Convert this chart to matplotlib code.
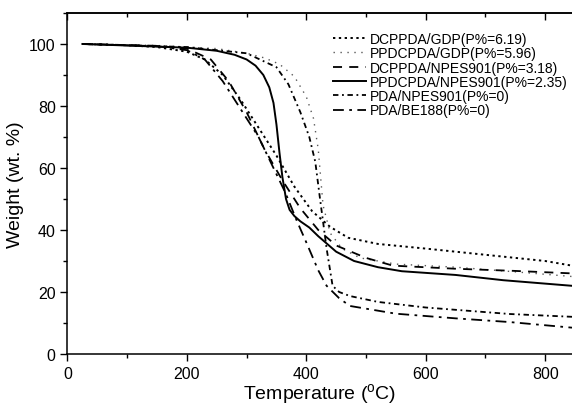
import numpy as np
import matplotlib
matplotlib.use('Agg')
import matplotlib.pyplot as plt
from matplotlib.ticker import MultipleLocator, NullFormatter

plt.rcParams['font.family'] = ['Liberation Sans', 'DejaVu Sans']
plt.rcParams['mathtext.fontset'] = 'custom'
plt.rcParams['mathtext.rm'] = 'Liberation Sans'

# TGA curves (temperature in C, weight in wt.%)
t_dcp_gdp = [25, 100, 150, 200, 230, 260, 290, 320, 350, 380, 410, 440, 470, 520, 600, 700, 800, 845]
w_dcp_gdp = [100, 99.6, 99, 97.5, 95, 90, 82, 73, 64, 54, 46, 41, 37.5, 35.5, 34, 32, 30, 28.5]

t_ppd_gdp = [25, 150, 250, 300, 330, 355, 380, 400, 412, 420, 428, 440, 460, 490, 550, 650, 750, 845]
w_ppd_gdp = [100, 99.5, 98.5, 97, 95.5, 93.5, 89.5, 83, 76, 66, 48, 39, 34, 31, 29, 28, 26.5, 25]

t_dcp_npes = [25, 150, 200, 240, 270, 300, 330, 360, 390, 420, 450, 500, 545, 650, 750, 845]
w_dcp_npes = [100, 99.4, 98.5, 95, 88, 78, 66, 56, 47, 40, 35, 31, 28.5, 27.5, 26.8, 26]

t_ppd_npes = [25, 100, 200, 250, 280, 300, 315, 328, 338, 345, 350, 355, 360, 366, 372, 380,
              390, 405, 420, 450, 480, 520, 560, 650, 730, 845]
w_ppd_npes = [100, 99.5, 98.8, 97.8, 96.5, 95, 93, 90, 86, 81, 74, 65, 57, 50, 46.5, 44.5,
              42.8, 40.8, 38, 33, 30, 28, 26.7, 25.5, 23.8, 22]

t_pda_npes = [25, 200, 300, 350, 370, 390, 405, 415, 423, 434, 444, 455, 473, 520, 600, 741, 845]
w_pda_npes = [100, 99, 97, 92.5, 87, 78, 70, 62, 50, 34, 22, 20, 18.7, 16.8, 15, 12.9, 12]

t_pda_be = [25, 150, 200, 230, 260, 290, 320, 345, 365, 384, 400, 420, 434, 455, 473, 550, 650, 741, 845]
w_pda_be = [100, 99.3, 98, 95, 88, 79, 70, 60, 52, 43, 36, 27, 22, 18, 15.5, 13, 11.5, 10.3, 8.5]

labels = ['DCPPDA/GDP(P%=6.19)', 'PPDCPDA/GDP(P%=5.96)', 'DCPPDA/NPES901(P%=3.18)',
          'PPDCPDA/NPES901(P%=2.35)', 'PDA/NPES901(P%=0)', 'PDA/BE188(P%=0)']

fig = plt.figure(figsize=(5.72, 4.06), dpi=100)
ax = fig.add_axes([0.118, 0.1256, 0.882, 0.84])

ax.plot(t_dcp_gdp, w_dcp_gdp, color='k', lw=1.4, ls=(0, (1.2, 1.8)), label=labels[0])
ax.plot(t_ppd_gdp, w_ppd_gdp, color='0.35', lw=1.0, ls=(0, (1, 4)), label=labels[1])
ax.plot(t_dcp_npes, w_dcp_npes, color='k', lw=1.3, ls=(0, (5, 4)), label=labels[2])
ax.plot(t_ppd_npes, w_ppd_npes, color='k', lw=1.4, ls='-', label=labels[3])
ax.plot(t_pda_npes, w_pda_npes, color='k', lw=1.3, ls=(0, (3, 2, 1, 2)), label=labels[4])
ax.plot(t_pda_be, w_pda_be, color='k', lw=1.3, ls=(0, (6, 3, 1.5, 3)), label=labels[5])

ax.set_xlim(0, 845)
ax.set_ylim(0, 110)
ax.xaxis.set_major_locator(MultipleLocator(200))
ax.xaxis.set_minor_locator(MultipleLocator(100))
ax.yaxis.set_major_locator(MultipleLocator(20))
ax.yaxis.set_minor_locator(MultipleLocator(10))
ax.tick_params(which='both', direction='out', labelsize=11.5, width=1)
ax.tick_params(which='major', length=5)
ax.tick_params(which='minor', length=3)
ax.spines['right'].set_visible(False)
for s in ['left', 'bottom', 'top']:
    ax.spines[s].set_linewidth(1.1)

# ticks on the top spine point inward, no labels
top = ax.secondary_xaxis('top')
top.xaxis.set_major_locator(MultipleLocator(200))
top.xaxis.set_minor_locator(MultipleLocator(100))
top.xaxis.set_major_formatter(NullFormatter())
top.tick_params(which='both', direction='in', width=1)
top.tick_params(which='major', length=5)
top.tick_params(which='minor', length=3)
top.spines['top'].set_linewidth(1.1)

ax.set_xlabel(r'Temperature ($^{\mathrm{o}}$C)', fontsize=14, labelpad=0)
ax.set_ylabel('Weight (wt. %)', fontsize=14, labelpad=4)

ax.legend(loc='upper left', bbox_to_anchor=(333 / 572, 1 - 33 / 406), bbox_transform=fig.transFigure,
          frameon=False, fontsize=10, handlelength=2.4, handletextpad=0.25, labelspacing=0.02,
          borderpad=0, borderaxespad=0)

fig.savefig('out.png', dpi=100)
